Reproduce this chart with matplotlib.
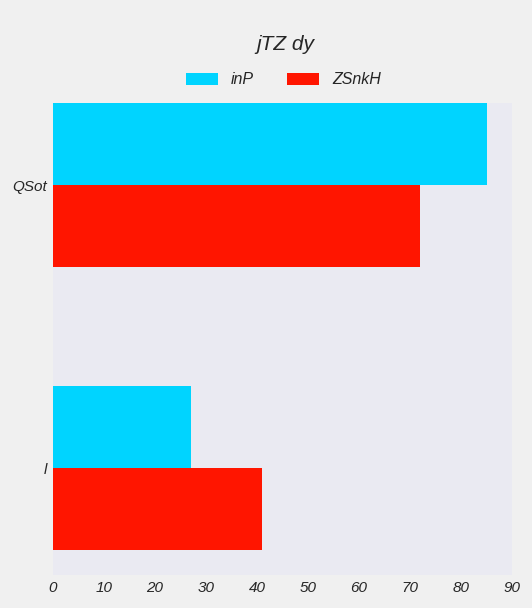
import matplotlib.pyplot as plt
import numpy as np

categories = ['l', 'QSot']
series_names = ['inP', 'ZSnkH']
inp_values = [27, 85]
zsnkh_values = [41, 72]
colors = ['#00D4FF', '#FF1500']

plt.rcParams['font.family'] = ['Liberation Sans', 'DejaVu Sans']
plt.rcParams['font.style'] = 'italic'

fig = plt.figure(figsize=(5.32, 6.08), dpi=100, facecolor='#F0F0F0')
ax = fig.add_axes([53 / 532, 1 - 575 / 608, (512 - 53) / 532, (575 - 103) / 608])
ax.set_facecolor('#EAEAF2')

y = np.arange(len(categories))
h = 0.29
b1 = ax.barh(y + h / 2, inp_values, height=h, color=colors[0], label=series_names[0])
b2 = ax.barh(y - h / 2, zsnkh_values, height=h, color=colors[1], label=series_names[1])

ax.set_xlim(0, 90)
ax.set_ylim(-0.378, 1.29)
ax.set_xticks(range(0, 91, 10))
ax.set_yticks(y)
ax.set_yticklabels(categories)
ax.tick_params(length=0, labelsize=11, colors='#262626', pad=4)
for s in ax.spines.values():
    s.set_visible(False)

fig.text(0.537, 1 - 44 / 608, 'jTZ dy', ha='center', va='center', fontsize=15, color='#262626')
fig.legend(handles=[b1, b2], loc='center', bbox_to_anchor=(0.533, 1 - 80 / 608), ncol=2,
           frameon=False, fontsize=11.5, handlelength=2.0, handleheight=0.7, handletextpad=0.8,
           columnspacing=2.1, labelcolor='#262626')

plt.savefig('out.png', dpi=100, facecolor=fig.get_facecolor())
